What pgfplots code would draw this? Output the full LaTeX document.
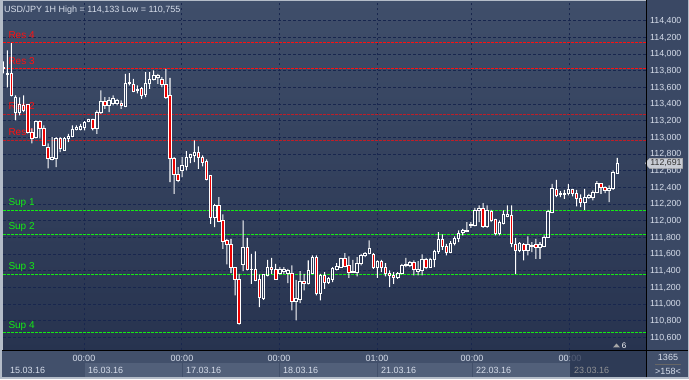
\documentclass[border=0pt]{standalone}
\usepackage{pgfplots}
\pgfplotsset{compat=1.18}
\usepackage{pgfplotstable}
\usepackage{fontspec}
\setmainfont{Liberation Sans}
\usetikzlibrary{shapes.symbols}

\definecolor{bgtop}{RGB}{63,78,106}
\definecolor{bgbot}{RGB}{39,51,79}
\definecolor{panel}{RGB}{58,72,100}
\definecolor{strip}{RGB}{66,80,107}
\definecolor{boxc}{RGB}{82,96,122}
\definecolor{darkc}{RGB}{40,52,80}
\definecolor{gridc}{RGB}{24,38,78}
\definecolor{resc}{RGB}{255,16,16}
\definecolor{resdim}{RGB}{190,30,40}
\definecolor{supc}{RGB}{20,235,20}
\definecolor{txt}{RGB}{215,222,235}
\definecolor{framec}{RGB}{180,188,200}
\definecolor{candred}{RGB}{235,0,0}
\definecolor{tagc}{RGB}{200,204,212}

\pgfplotstableread{
i o h l c
1 113.829 113.913 113.769 113.841
2 113.753 114.045 113.601 113.773
3 113.765 114.133 113.493 113.505
4 113.305 113.505 113.205 113.485
5 113.305 113.481 113.265 113.397
6 113.385 113.505 113.305 113.325
7 113.397 113.397 113.049 113.065
8 113.065 113.109 112.929 112.985
9 112.997 113.205 112.989 113.197
10 113.197 113.205 112.989 113.105
11 113.105 113.145 112.905 112.905
12 112.885 112.929 112.629 112.745
13 112.733 113.005 112.725 112.765
14 112.749 113.005 112.645 112.989
15 112.989 113.005 112.825 112.865
16 112.845 113.005 112.845 112.985
17 112.985 113.045 112.945 113.013
18 113.013 113.145 113.005 113.093
19 113.093 113.145 113.085 113.117
20 113.097 113.165 113.085 113.133
21 113.125 113.197 113.085 113.185
22 113.189 113.225 113.185 113.213
23 113.213 113.225 113.085 113.105
24 113.105 113.325 113.045 113.305
25 113.305 113.565 113.285 113.437
26 113.437 113.485 113.345 113.385
27 113.385 113.485 113.305 113.445
28 113.405 113.505 113.385 113.465
29 113.405 113.465 113.385 113.445
30 113.413 113.445 113.345 113.385
31 113.373 113.765 113.365 113.645
32 113.645 113.773 113.625 113.661
33 113.637 113.705 113.545 113.557
34 113.561 113.625 113.529 113.573
35 113.585 113.605 113.465 113.505
36 113.517 113.785 113.485 113.653
37 113.645 113.785 113.585 113.693
38 113.693 113.805 113.685 113.745
39 113.725 113.765 113.645 113.745
40 113.693 113.725 113.605 113.637
41 113.637 113.825 113.465 113.477
42 113.505 113.717 112.465 112.745
43 112.745 112.765 112.325 112.553
44 112.553 112.645 112.465 112.485
45 112.605 112.765 112.525 112.665
46 112.657 112.837 112.605 112.757
47 112.757 112.805 112.693 112.793
48 112.789 112.965 112.705 112.817
49 112.817 112.893 112.625 112.757
50 112.757 112.785 112.653 112.705
51 112.713 112.737 112.485 112.493
52 112.541 112.541 111.965 112.037
53 112.037 112.205 111.925 112.181
54 112.181 112.285 111.985 111.997
55 112.005 112.077 111.665 111.757
56 111.765 111.785 111.477 111.713
57 111.717 111.785 111.373 111.437
58 111.437 111.437 111.105 111.293
59 111.293 111.365 110.755 110.765
60 111.477 112.005 111.397 111.677
61 111.677 111.797 111.405 111.413
62 111.413 111.605 111.245 111.420
63 111.413 111.633 111.277 111.285
64 111.293 111.357 110.965 111.077
65 111.069 111.357 111.053 111.357
66 111.345 111.533 111.333 111.437
67 111.437 111.557 111.365 111.413
68 111.413 111.485 111.293 111.301
69 111.365 111.445 111.357 111.413
70 111.397 111.445 111.365 111.413
71 111.373 111.425 111.253 111.405
72 111.373 111.465 110.925 111.029
73 111.029 111.293 110.805 111.065
74 111.061 111.397 111.013 111.273
75 111.273 111.365 111.165 111.245
76 111.245 111.525 111.237 111.405
77 111.365 111.585 111.365 111.557
78 111.557 111.585 111.105 111.125
79 111.125 111.365 111.045 111.345
80 111.345 111.385 111.185 111.265
81 111.265 111.325 111.245 111.305
82 111.293 111.445 111.265 111.425
83 111.421 111.493 111.405 111.453
84 111.445 111.557 111.437 111.545
85 111.545 111.613 111.445 111.453
86 111.465 111.573 111.317 111.385
87 111.385 111.533 111.381 111.393
88 111.385 111.565 111.333 111.485
89 111.485 111.605 111.465 111.581
90 111.581 111.625 111.565 111.613
91 111.613 111.765 111.597 111.665
92 111.597 111.613 111.425 111.437
93 111.437 111.525 111.317 111.517
94 111.517 111.533 111.385 111.437
95 111.437 111.493 111.333 111.373
96 111.373 111.405 111.205 111.341
97 111.345 111.385 111.245 111.317
98 111.317 111.385 111.305 111.373
99 111.365 111.485 111.357 111.465
100 111.461 111.557 111.445 111.477
101 111.469 111.517 111.445 111.501
102 111.501 111.525 111.345 111.413
103 111.397 111.517 111.345 111.413
104 111.405 111.597 111.345 111.533
105 111.533 111.557 111.421 111.437
106 111.437 111.557 111.437 111.533
107 111.533 111.653 111.445 111.637
108 111.637 111.865 111.605 111.773
109 111.773 111.837 111.653 111.693
110 111.693 111.725 111.585 111.625
111 111.625 111.757 111.613 111.733
112 111.725 111.813 111.705 111.785
113 111.785 111.885 111.745 111.853
114 111.857 111.905 111.825 111.885
115 111.879 111.985 111.865 111.891
116 111.945 111.985 111.917 111.957
117 111.945 112.157 111.933 112.125
118 112.125 112.185 111.985 112.145
119 112.145 112.213 111.917 111.933
120 111.933 112.185 111.917 112.125
121 112.113 112.133 111.985 112.005
122 112.013 112.025 111.825 111.845
123 111.845 112.005 111.825 111.985
124 111.973 112.125 111.957 112.077
125 112.053 112.185 112.045 112.077
126 112.065 112.185 111.685 111.725
127 111.717 111.797 111.365 111.645
128 111.645 111.745 111.625 111.725
129 111.713 111.733 111.525 111.645
130 111.645 111.813 111.585 111.717
131 111.705 111.745 111.625 111.699
132 111.717 111.785 111.545 111.685
133 111.685 111.745 111.545 111.717
134 111.693 111.825 111.685 111.805
135 111.805 112.133 111.797 112.117
136 112.105 112.445 112.093 112.385
137 112.373 112.493 112.285 112.305
138 112.317 112.357 112.285 112.333
139 112.317 112.373 112.265 112.333
140 112.325 112.445 112.305 112.373
141 112.373 112.385 112.293 112.325
142 112.333 112.373 112.173 112.265
143 112.265 112.317 112.165 112.225
144 112.225 112.385 112.133 112.285
145 112.285 112.325 112.265 112.305
146 112.285 112.365 112.245 112.345
147 112.345 112.477 112.333 112.453
148 112.453 112.453 112.325 112.405
149 112.405 112.413 112.333 112.365
150 112.365 112.425 112.225 112.385
151 112.385 112.605 112.373 112.585
152 112.573 112.757 112.565 112.691
}\candles

\begin{document}
\begin{tikzpicture}[x=1pt,y=1pt]
% frame and panels
\fill[framec] (0,0) rectangle (689,379);
\fill[panel] (647,29) rectangle (688,379);
\fill[strip] (2,2) rectangle (688,28);
\foreach \a/\b in {84/182,182/279,279/377,377/472,472/570}{\fill[boxc] (\a+1,2) rectangle (\b,16);}

\begin{axis}[at={(3pt,29pt)}, anchor=south west, scale only axis,
  width=643pt, height=349pt,
  xmin=0.926, xmax=159.07, ymin=110.445, ymax=114.633, enlargelimits=false,
  axis line style={draw=none},
  axis background/.style={top color=bgtop, bottom color=bgbot},
  xtick={20.85,44.95,68.81,92.91,116.27,140.37}, xticklabels={},
  ytick={110.6,110.8,111.0,111.2,111.4,111.6,111.8,112.0,112.2,112.4,112.6,112.8,113.0,113.2,113.4,113.6,113.8,114.0,114.2,114.4},
  xmajorgrids, ymajorgrids,
  major grid style={gridc, line width=1pt, dash pattern=on 2.5pt off 2.5pt},
  major tick length=0pt,
  yticklabel pos=right,
  yticklabel style={text=txt, font=\fontsize{8.8}{10}\selectfont, anchor=west, inner sep=0pt, xshift=4pt,
    /pgf/number format/fixed, /pgf/number format/fixed zerofill, /pgf/number format/precision=3,
    /pgf/number format/use comma, /pgf/number format/1000 sep={}, /pgf/number format/assume math mode=true},
]
% resistance lines
\addplot[resc, line width=1pt, dash pattern=on 3pt off 1pt] coordinates {(0.926,114.135) (159.07,114.135)};
\addplot[resc, line width=1pt, dash pattern=on 3pt off 1pt] coordinates {(0.926,113.823) (159.07,113.823)};
\addplot[resdim, line width=1pt, dash pattern=on 3pt off 1pt] coordinates {(0.926,113.271) (159.07,113.271)};
\addplot[resdim, line width=1pt, dash pattern=on 3pt off 1pt] coordinates {(0.926,112.959) (159.07,112.959)};
% support lines
\addplot[supc, line width=1pt, dash pattern=on 3pt off 1pt] coordinates {(0.926,112.119) (159.07,112.119)};
\addplot[supc, line width=1pt, dash pattern=on 3pt off 1pt] coordinates {(0.926,111.831) (159.07,111.831)};
\addplot[supc, line width=1pt, dash pattern=on 3pt off 1pt] coordinates {(0.926,111.351) (159.07,111.351)};
\addplot[supc, line width=1pt, dash pattern=on 3pt off 1pt] coordinates {(0.926,110.655) (159.07,110.655)};
\tikzset{lvl/.style={anchor=base west, inner sep=0pt, font=\fontsize{10}{12}\selectfont, yshift=4.5pt}}
\node[lvl, text=resc] at (axis cs:2.23,114.133) {Res 4};
\node[lvl, text=resc] at (axis cs:2.23,113.826) {Res 3};
\node[lvl, text=resc] at (axis cs:2.23,113.286) {Res 2};
\node[lvl, text=resc] at (axis cs:2.23,112.973) {Res 1};
\node[lvl, text=supc] at (axis cs:2.23,112.133) {Sup 1};
\node[lvl, text=supc] at (axis cs:2.23,111.845) {Sup 2};
\node[lvl, text=supc] at (axis cs:2.23,111.365) {Sup 3};
\node[lvl, text=supc] at (axis cs:2.23,110.656) {Sup 4};
\coordinate (tag) at (axis cs:159.07,112.691);
\end{axis}

% candles
\begin{axis}[at={(3pt,29pt)}, anchor=south west, scale only axis,
  width=643pt, height=349pt,
  xmin=0.926, xmax=159.07, ymin=110.445, ymax=114.633, enlargelimits=false,
  hide axis, ybar stacked, bar width=0.62]
\addplot[draw=none, fill=none] table[x=i, y=l] {\candles};
\addplot[draw=none, fill=white, bar width=0.25] table[x=i, y expr={min(\thisrow{o},\thisrow{c})-\thisrow{l}}] {\candles};
\addplot[draw=white, fill=none, line width=0.9pt] table[x=i, y expr={max(\thisrow{c}-\thisrow{o},0)}] {\candles};
\addplot[draw=white, fill=candred, line width=0.9pt] table[x=i, y expr={max(\thisrow{o}-\thisrow{c},0)}] {\candles};
\addplot[draw=none, fill=white, bar width=0.25] table[x=i, y expr={\thisrow{h}-max(\thisrow{o},\thisrow{c})}] {\candles};
\end{axis}

% title
\node[anchor=base west, inner sep=0pt, text=txt, font=\fontsize{9}{11}\selectfont] at (4,367) {USD/JPY 1H High = 114,133 Low = 110,755};

% price tag
\node[signal, signal to=west, signal pointer angle=100, fill=tagc, draw=gray!60, inner sep=1pt, minimum height=10pt, text=black!80, anchor=west, font=\fontsize{8.8}{10}\selectfont] at ([xshift=-1pt]tag) {112,691};

% time strip texts
\tikzset{st/.style={text=txt, inner sep=0pt, font=\fontsize{9}{10}\selectfont}}
\foreach \x/\t in {84/00:00,182/00:00,279/00:00,377/01:00,472/00:00,570/00:00}{\node[st] at (\x,21.3) {\t};}
\node[st, anchor=west] at (10,9) {15.03.16};
\node[st, anchor=west] at (88,9) {16.03.16};
\node[st, anchor=west] at (186,9) {17.03.16};
\node[st, anchor=west] at (283,9) {18.03.16};
\node[st, anchor=west] at (381,9) {21.03.16};
\node[st, anchor=west] at (476,9) {22.03.16};
\fill[darkc, opacity=0.75] (570,2) rectangle (646,28);
\node[st, anchor=west, text=gray!80!txt] at (574,9) {23.03.16};

% corner
\node[st] at (668,22) {1365};
\draw[gray!80!black, line width=0.8pt] (655,15) -- (681,15);
\node[st] at (668,8) {>158<};

% small marker
\fill[gray!70] (613,32) -- (620,32) -- (616.5,36) -- cycle;
\node[text=white, inner sep=0pt, font=\fontsize{8}{9}\selectfont] at (624,33.5) {6};

% separators
\draw[black, line width=1pt] (646.5,2) -- (646.5,379);
\draw[black, line width=1pt] (2,28.5) -- (688,28.5);
\end{tikzpicture}
\end{document}
